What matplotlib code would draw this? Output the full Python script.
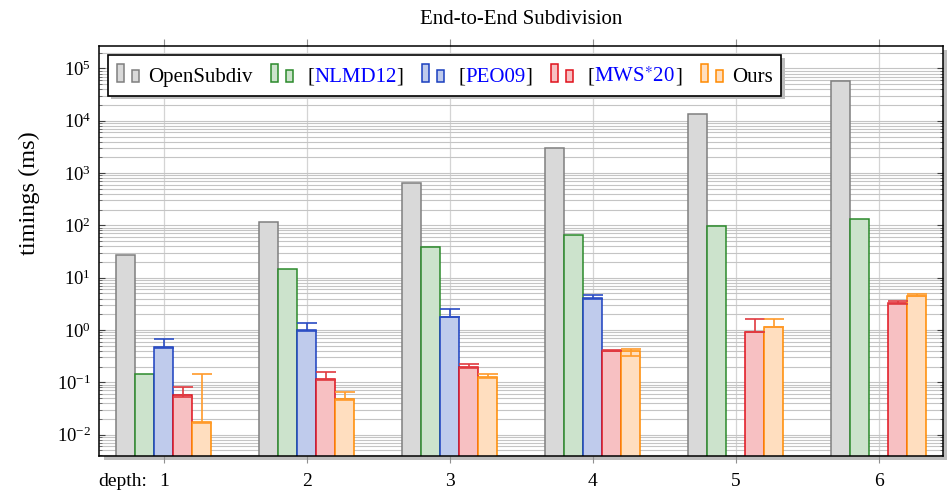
import numpy as np
import matplotlib
matplotlib.use('Agg')
import matplotlib.pyplot as plt
from matplotlib import patheffects
from matplotlib.offsetbox import AnchoredOffsetbox, DrawingArea, HPacker, TextArea
from matplotlib.patches import Rectangle
from matplotlib.ticker import LogLocator, NullFormatter

plt.rcParams['font.family'] = ['Liberation Serif', 'DejaVu Serif']
plt.rcParams['mathtext.fontset'] = 'stix'

PX = 72 / 100  # points per pixel at dpi 100

depths = np.array([1, 2, 3, 4, 5, 6])
decades = [1e-2, 1e-1, 1e0, 1e1, 1e2, 1e3, 1e4, 1e5]

opensubdiv = np.array([27, 118, 640, 3000, 13500, 57000])
nlmd12 = np.array([0.144, 14.5, 39, 65, 99, 132])

peo09 = np.array([0.47, 1.0, 1.8, 4.1, np.nan, np.nan])
peo09_lo = np.array([0.45, 0.97, 1.75, 4.0, np.nan, np.nan])
peo09_hi = np.array([0.67, 1.38, 2.49, 4.7, np.nan, np.nan])

mws20 = np.array([0.057, 0.117, 0.199, 0.40, 0.93, 3.24])
mws20_lo = np.array([0.053, 0.11, 0.19, 0.39, 0.90, 3.15])
mws20_hi = np.array([0.081, 0.16, 0.221, 0.41, 1.6, 3.63])

ours = np.array([0.0174, 0.047, 0.128, 0.40, 1.16, 4.53])
ours_lo = np.array([0.0165, 0.045, 0.123, 0.32, 1.12, 4.4])
ours_hi = np.array([0.144, 0.064, 0.146, 0.433, 1.6, 4.94])

# (label, cited, values, lo, hi, edge, face, errcolor)
series = [
    ('OpenSubdiv', False, opensubdiv, None, None, '#7f7f7f', '#d9d9d9', None),
    ('NLMD12', True, nlmd12, None, None, '#2b8a2b', '#cce3cc', None),
    ('PEO09', True, peo09, peo09_lo, peo09_hi, '#1a3fbf', '#bfcbec', '#2a4cc4'),
    ('MWS$^{\\ast}$20', True, mws20, mws20_lo, mws20_hi, '#e0111b', '#f7c0c2', '#e03a40'),
    ('Ours', False, ours, ours_lo, ours_hi, '#ff8a00', '#ffdebf', '#ff9a2a'),
]

fig = plt.figure(figsize=(9.51, 5.0), dpi=100)
ax = fig.add_axes([0.1046, 0.088, 0.887, 0.820])
ax.set_yscale('log')

width = 19 / 143
for i, (label, cited, vals, lo, hi, edge, face, ecol) in enumerate(series):
    off = (i - 2) * width
    m = np.isfinite(vals)
    ax.bar(depths[m] + off, vals[m], width, color=face, edgecolor=edge,
           linewidth=1.1, zorder=2)
    if hi is not None:
        ax.errorbar(depths[m] + off, vals[m],
                    yerr=[vals[m] - lo[m], hi[m] - vals[m]],
                    fmt='none', ecolor=ecol, elinewidth=1.2, capsize=7,
                    capthick=1.2, zorder=3)

ax.set_xlim(0.55, 6.45)
ax.set_ylim(0.0039, 2.69e5)

ax.set_xticks(depths)
ax.set_xticklabels([str(d) for d in depths])
ax.set_yticks(decades)
ax.yaxis.set_minor_locator(LogLocator(base=10, subs=np.arange(2, 10), numticks=20))
ax.yaxis.set_minor_formatter(NullFormatter())

ax.tick_params(axis='x', which='both', direction='out', top=True, bottom=True,
               length=5, width=0.8, color='#909090', labelsize=14, pad=7.5)
ax.tick_params(axis='y', which='major', direction='in', left=True, right=True,
               length=4.5, width=0.8, color='#404040', labelsize=13.5, pad=6)
ax.tick_params(axis='y', which='minor', direction='in', left=True, right=True,
               length=2.5, width=0.6, color='#606060')

ax.set_axisbelow(True)
ax.grid(True, axis='x', which='major', color='#d4d4d4', linewidth=0.9)
ax.grid(True, axis='y', which='both', color='#c4c4c4', linewidth=0.8)

for sp in ax.spines.values():
    sp.set_linewidth(1.1)
    sp.set_color('black')

ax.patch.set_path_effects([patheffects.withSimplePatchShadow(
    offset=(3, -3), shadow_rgbFace='#bdbdbd', alpha=1.0)])

ax.set_title('End-to-End Subdivision', fontsize=15, pad=16)
ax.set_ylabel('timings (ms)', fontsize=17.5)
ax.yaxis.set_label_coords(-0.071, 0.64)
ax.annotate('depth:', xy=(1, 0), xycoords=('data', 'axes fraction'),
            xytext=(-12, -12.5), textcoords='offset points',
            ha='right', va='top', fontsize=14)


# legend with pgfplots-like bar icons and cite-style labels
def bar_icon(edge, face):
    da = DrawingArea(22 * PX, 18 * PX, 0, 0)
    da.add_artist(Rectangle((0, 0), 7 * PX, 18 * PX, fc=face, ec=edge, lw=1.1))
    da.add_artist(Rectangle((15 * PX, 0), 7 * PX, 12 * PX, fc=face, ec=edge, lw=1.1))
    return da


entries = []
for label, cited, vals, lo, hi, edge, face, ecol in series:
    tp = dict(fontsize=15, color='black')
    if cited:
        txt = HPacker(children=[TextArea('[', textprops=tp),
                                TextArea(label, textprops=dict(fontsize=15, color='#0000ff')),
                                TextArea(']', textprops=tp)],
                      sep=0, pad=0, align='baseline')
        sep = 14 * PX
    else:
        txt = TextArea(label, textprops=tp)
        sep = 9 * PX
    entries.append(HPacker(children=[bar_icon(edge, face), txt], sep=sep,
                           pad=0, align='baseline'))

row = HPacker(children=entries, sep=19 * PX, pad=0, align='baseline')
box = AnchoredOffsetbox(loc='upper left', child=row, pad=0.42, borderpad=0,
                        frameon=True, bbox_to_anchor=(0.0101, 0.978),
                        bbox_transform=ax.transAxes, prop=dict(size=15))
box.patch.set_edgecolor('black')
box.patch.set_linewidth(1.2)
box.patch.set_path_effects([patheffects.withSimplePatchShadow(
    offset=(2.5, -2.5), shadow_rgbFace='#bdbdbd', alpha=1.0)])
box.set_zorder(5)
ax.add_artist(box)

fig.savefig('out.png', dpi=100)
